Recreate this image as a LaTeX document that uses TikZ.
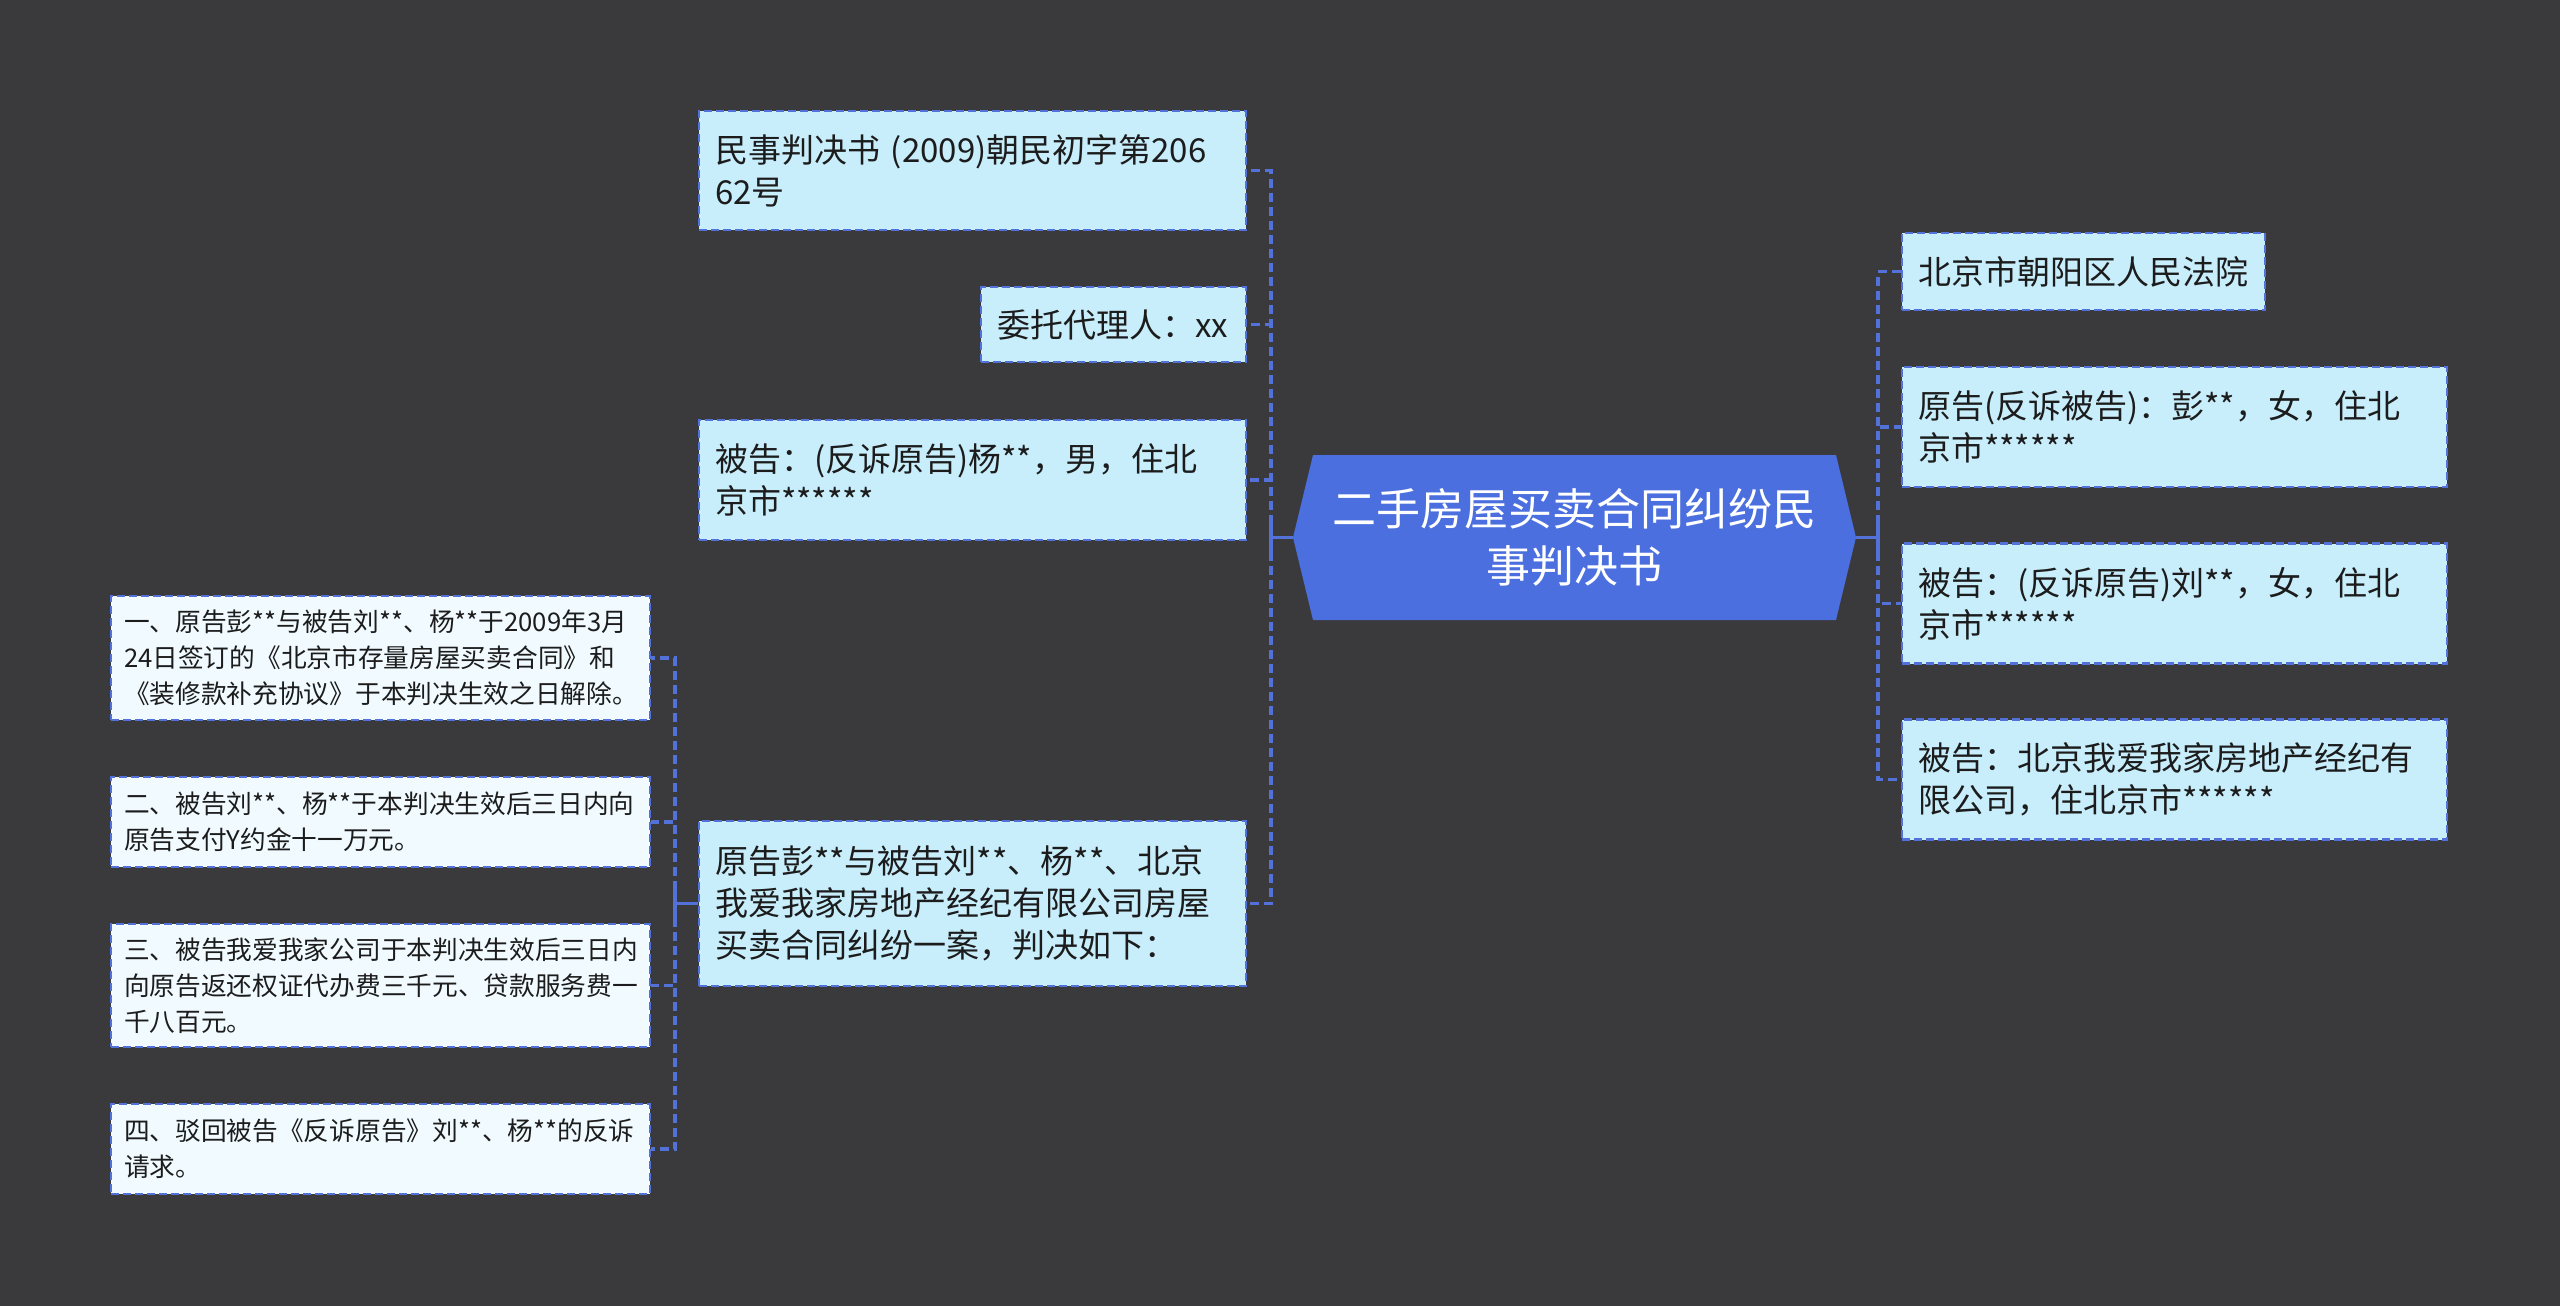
\documentclass[tikz,border=0pt]{standalone}
\usepackage{fontspec}
\setmainfont{Noto Sans CJK SC}
\definecolor{bgcol}{HTML}{3A393C}
\definecolor{linecol}{HTML}{5272DA}
\definecolor{centerfill}{HTML}{4B6FDF}
\definecolor{lonefill}{HTML}{C8EEFC}
\definecolor{ltwofill}{HTML}{F1FBFF}
\definecolor{txtcol}{HTML}{1C1C1C}
\begin{document}
\begin{tikzpicture}[x=0.5pt,y=-0.5pt,
  box/.style={rectangle, draw=linecol, line width=1.25pt, dash pattern=on 4pt off 2pt,
    inner xsep=8pt, inner ysep=0pt, align=left, text=txtcol,
    font=\fontsize{16.5pt}{21pt}\selectfont},
  lone/.style={box, fill=lonefill},
  ltwo/.style={box, fill=ltwofill, inner xsep=6.5pt,
    font=\fontsize{12.85pt}{18pt}\selectfont},
  centerbox/.style={rectangle, inner sep=0pt, align=center, text=white,
    minimum width=281.5pt, minimum height=82.5pt,
    font=\fontsize{22pt}{28.5pt}\selectfont},
  conn/.style={draw=linecol, line width=1.75pt, dash pattern=on 4.5pt off 2.5pt},
  stub/.style={draw=linecol, line width=1.25pt},
  tick/.style={draw=linecol, line width=1.75pt}]
\fill[bgcol] (0,0) rectangle (2560,1306);
\useasboundingbox (0,0) rectangle (2560,1306);

% center shape
\fill[centerfill] (1293,537.5) -- (1313,455) -- (1836,455) -- (1856,537.5) -- (1836,620) -- (1313,620) -- cycle;
\node[centerbox] (C) at (1574.5,537.5) {二手房屋买卖合同纠纷民\\事判决书};

% left level-1
\node[lone, text width=257.5pt, minimum height=59.5pt] (L1) at (972.5,170.5)
  {民事判决书~(2009)朝民初字第206\\62号};
\node[lone, text width=116.5pt, minimum height=37.5pt] (L2) at (1113.5,324.5)
  {委托代理人：xx};
\node[lone, text width=257.5pt, minimum height=60pt] (L3) at (972.5,480)
  {被告：(反诉原告)杨**，男，住北\\京市******};
\node[lone, text width=257.5pt, minimum height=82.5pt] (L4) at (972.5,903.5)
  {原告彭**与被告刘**、杨**、北京\\我爱我家房地产经纪有限公司房屋\\买卖合同纠纷一案，判决如下：};

% right level-1
\node[lone, text width=165.5pt, minimum height=38.5pt] (R1) at (2083.5,271.5)
  {北京市朝阳区人民法院};
\node[lone, text width=256.5pt, minimum height=60pt] (R2) at (2174.5,427)
  {原告(反诉被告)：彭**，女，住北\\京市******};
\node[lone, text width=256.5pt, minimum height=60pt] (R3) at (2174.5,603.5)
  {被告：(反诉原告)刘**，女，住北\\京市******};
\node[lone, text width=256.5pt, minimum height=60pt] (R4) at (2174.5,779.5)
  {被告：北京我爱我家房地产经纪有\\限公司，住北京市******};

% level-2
\node[ltwo, text width=256.5pt, minimum height=62pt] (K1) at (380.5,658)
  {一、原告彭**与被告刘**、杨**于2009年3月\\24日签订的《北京市存量房屋买卖合同》和\\《装修款补充协议》于本判决生效之日解除。};
\node[ltwo, text width=256.5pt, minimum height=45pt] (K2) at (380.5,822)
  {二、被告刘**、杨**于本判决生效后三日内向\\原告支付Y约金十一万元。};
\node[ltwo, text width=256.5pt, minimum height=61.5pt] (K3) at (380.5,985.5)
  {三、被告我爱我家公司于本判决生效后三日内\\向原告返还权证代办费三千元、贷款服务费一\\千八百元。};
\node[ltwo, text width=256.5pt, minimum height=45pt] (K4) at (380.5,1149)
  {四、驳回被告《反诉原告》刘**、杨**的反诉\\请求。};

% junctions
\coordinate (jl) at (1271,537.5);
\coordinate (jr) at (1878,537.5);
\coordinate (jk) at (675,903.5);

% stubs with ticks
\draw[stub] (C.west) -- (jl);
\draw[tick] ([yshift=-8]jl) -- ([yshift=8]jl);
\draw[stub] (C.east) -- (jr);
\draw[tick] ([yshift=-8]jr) -- ([yshift=8]jr);
\draw[stub] (L4.west) -- (jk);
\draw[tick] ([yshift=-8]jk) -- ([yshift=8]jk);

% connectors
\draw[conn] (jl) |- (L1.east);
\draw[conn] (jl) |- (L2.east);
\draw[conn] (jl) |- (L3.east);
\draw[conn] (jl) |- (L4.east);
\draw[conn] (jr) |- (R1.west);
\draw[conn] (jr) |- (R2.west);
\draw[conn] (jr) |- (R3.west);
\draw[conn] (jr) |- (R4.west);
\draw[conn] (jk) |- (K1.east);
\draw[conn] (jk) |- (K2.east);
\draw[conn] (jk) |- (K3.east);
\draw[conn] (jk) |- (K4.east);
\end{tikzpicture}
\end{document}
